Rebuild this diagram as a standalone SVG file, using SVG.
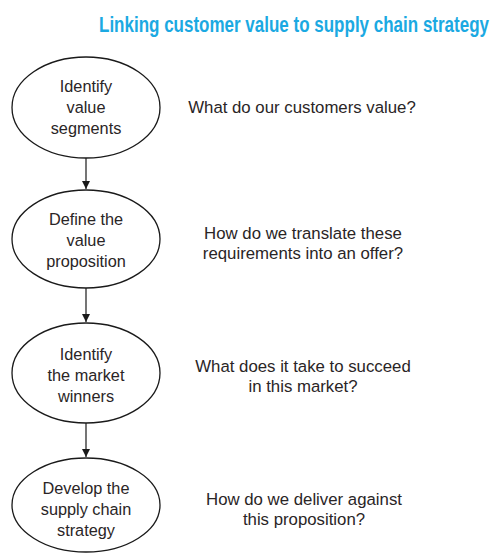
<svg xmlns="http://www.w3.org/2000/svg" width="496" height="554" viewBox="0 0 496 554">
<defs>
<style>
.node{fill:#fff;stroke:#1a1a1a;stroke-width:1.3}
.nt{font-family:"Liberation Sans",Arial,sans-serif;font-size:16.3px;fill:#2a2526;text-anchor:middle}
.q{font-family:"Liberation Sans",Arial,sans-serif;font-size:16.8px;fill:#2a2526;text-anchor:middle}
.title{font-family:"Liberation Sans Narrow","Liberation Sans",Arial,sans-serif;font-weight:bold;font-size:22px;fill:#1ba9e2}
.conn{stroke:#1a1a1a;stroke-width:1.2;fill:none}
</style>
<marker id="ah" viewBox="0 0 10 10" refX="10" refY="5" markerWidth="8" markerHeight="14" markerUnits="userSpaceOnUse" orient="auto">
<path d="M0,0 L10,5 L0,10 Z" fill="#1a1a1a"/>
</marker>
</defs>
<text class="title" x="99" y="32" textLength="390" lengthAdjust="spacingAndGlyphs">Linking customer value to supply chain strategy</text>
<g id="connectors">
<line class="conn" x1="86" y1="158" x2="86" y2="189" marker-end="url(#ah)"/>
<line class="conn" x1="86" y1="288" x2="86" y2="322" marker-end="url(#ah)"/>
<line class="conn" x1="86" y1="423" x2="86" y2="457" marker-end="url(#ah)"/>
</g>
<g id="n1">
<ellipse class="node" cx="86" cy="107.5" rx="74" ry="50.5"/>
<text class="nt" x="86" y="92">Identify</text>
<text class="nt" x="86" y="113">value</text>
<text class="nt" x="86" y="134">segments</text>
</g>
<g id="n2">
<ellipse class="node" cx="86" cy="239" rx="74" ry="49"/>
<text class="nt" x="86" y="225">Define the</text>
<text class="nt" x="86" y="246">value</text>
<text class="nt" x="86" y="267">proposition</text>
</g>
<g id="n3">
<ellipse class="node" cx="86" cy="373" rx="74" ry="50"/>
<text class="nt" x="86" y="360">Identify</text>
<text class="nt" x="86" y="381">the market</text>
<text class="nt" x="86" y="402">winners</text>
</g>
<g id="n4">
<ellipse class="node" cx="86" cy="505" rx="74" ry="47"/>
<text class="nt" x="86" y="494">Develop the</text>
<text class="nt" x="86" y="515">supply chain</text>
<text class="nt" x="86" y="536">strategy</text>
</g>
<g id="q1">
<text class="q" x="302" y="113">What do our customers value?</text>
</g>
<g id="q2">
<text class="q" x="303" y="239">How do we translate these</text>
<text class="q" x="303" y="259">requirements into an offer?</text>
</g>
<g id="q3">
<text class="q" x="303" y="372">What does it take to succeed</text>
<text class="q" x="303" y="392">in this market?</text>
</g>
<g id="q4">
<text class="q" x="304" y="505">How do we deliver against</text>
<text class="q" x="304" y="525">this proposition?</text>
</g>
</svg>
